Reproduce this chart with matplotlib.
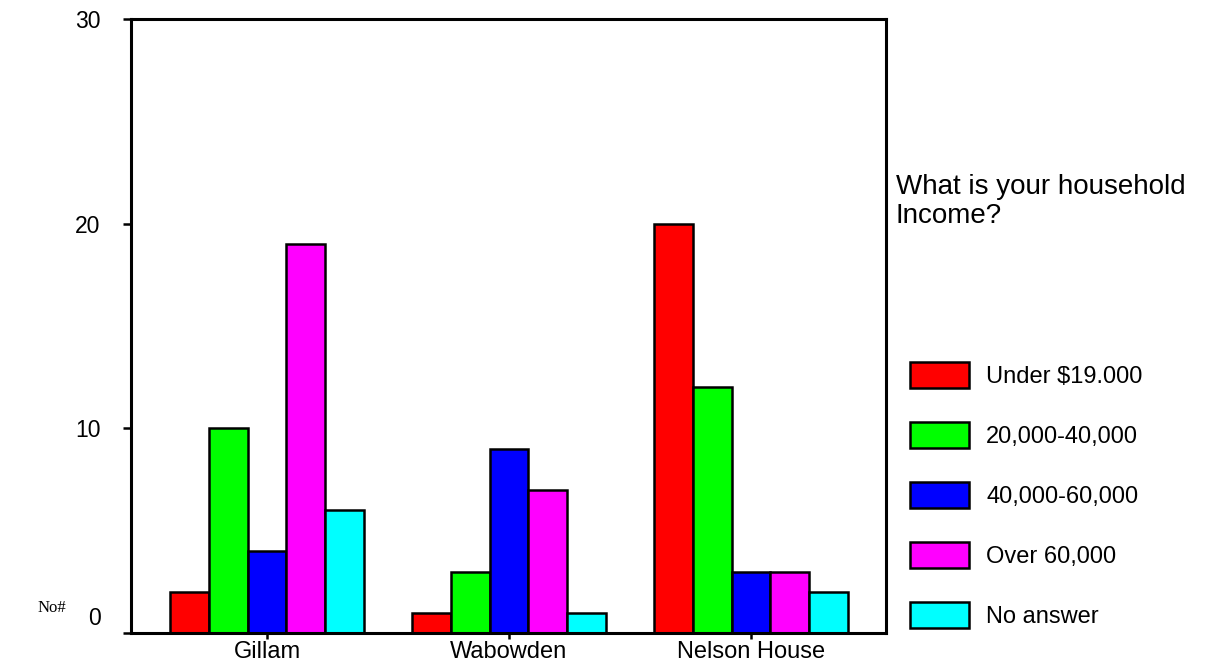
import matplotlib.pyplot as plt
import matplotlib.transforms as mtransforms
import numpy as np

plt.rcParams['font.family'] = ['Liberation Sans', 'DejaVu Sans']

# data
towns = ['Gillam', 'Wabowden', 'Nelson House']
income_groups = ['Under $19.000', '20,000-40,000', '40,000-60,000', 'Over 60,000', 'No answer']
counts = {
    'Under $19.000': [2, 1, 20],
    '20,000-40,000': [10, 3, 12],
    '40,000-60,000': [4, 9, 3],
    'Over 60,000': [19, 7, 3],
    'No answer': [6, 1, 2],
}
colors = ['#ff0000', '#00ff00', '#0000ff', '#ff00ff', '#00ffff']
y_ticks = [0, 10, 20, 30]

fig = plt.figure(figsize=(12.16, 6.66), dpi=100)
ax = fig.add_axes([131 / 1216, 33 / 666, 755 / 1216, 614 / 666])

x = np.arange(len(towns))
w = 0.16
for j, grp in enumerate(income_groups):
    ax.bar(x + (j - 2) * w, counts[grp], w, color=colors[j], edgecolor='black',
           linewidth=1.8, label=grp)

ax.set_xlim(-0.562, 2.558)
ax.set_ylim(0, 30)
ax.set_yticks(y_ticks)
ax.set_xticks(x)
ax.set_xticklabels(towns)

for s in ax.spines.values():
    s.set_linewidth(2.2)
ax.tick_params(axis='y', length=6, width=1.8, pad=16, labelsize=16.5)
ax.tick_params(axis='x', length=4, width=1.8, pad=2, labelsize=17)

# the "0" label sits a bit above the baseline in the original
lab0 = ax.yaxis.get_major_ticks()[0].label1
lab0.set_transform(lab0.get_transform() +
                   mtransforms.ScaledTranslation(0, 12 / 72, fig.dpi_scale_trans))

fig.text(38 / 1216, (666 - 608) / 666, 'No#', family='Liberation Serif',
         fontsize=12, va='center', ha='left')

fig.text(896 / 1216, (666 - 174) / 666, 'What is your household\nIncome?',
         fontsize=20, va='top', ha='left', linespacing=1.15)

ax.legend(loc='upper left', bbox_to_anchor=(910 / 1216, (666 - 362) / 666),
          bbox_transform=fig.transFigure, frameon=False, fontsize=17,
          handlelength=2.5, handleheight=1.3, handletextpad=0.72,
          labelspacing=1.45, borderpad=0, borderaxespad=0)

fig.savefig('out.png', dpi=100)
